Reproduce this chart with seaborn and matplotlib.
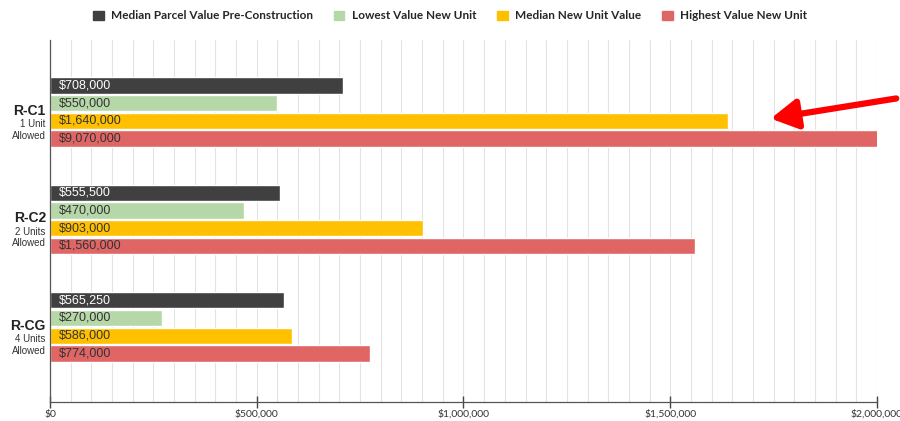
import numpy as np
import pandas as pd
import matplotlib
matplotlib.use("Agg")
import matplotlib.pyplot as plt
import seaborn as sns
from matplotlib.patches import FancyArrowPatch
from matplotlib.ticker import MultipleLocator, FuncFormatter

# ---------------------------------------------------------------
# DATA
# ---------------------------------------------------------------
zones = ["R-C1", "R-C2", "R-CG"]
zone_notes = ["1 Unit\nAllowed", "2 Units\nAllowed", "4 Units\nAllowed"]
series = ["Median Parcel Value Pre-Construction", "Lowest Value New Unit",
          "Median New Unit Value", "Highest Value New Unit"]
median_parcel = [708000, 555500, 565250]
lowest_new = [550000, 470000, 270000]
median_new = [1640000, 903000, 586000]
highest_new = [9070000, 1560000, 774000]
colors = ["#404040", "#b6d7a8", "#ffc000", "#e06666"]
label_colors = ["white", "#333333", "#333333", "#333333"]

all_vals = [median_parcel, lowest_new, median_new, highest_new]
rows = []
for vals, name in zip(all_vals, series):
    for z, v in zip(zones, vals):
        rows.append({"zone": z, "series": name, "value": v})
df = pd.DataFrame(rows)

# ---------------------------------------------------------------
# PLOT
# ---------------------------------------------------------------
sns.set_theme(style="white")
plt.rcParams['font.family'] = ['Lato', 'DejaVu Sans']

fig = plt.figure(figsize=(9, 4.21), dpi=100)
ax = fig.add_axes([50 / 900, 19 / 421, 827 / 900, 362 / 421])

sns.barplot(data=df, y="zone", x="value", hue="series", order=zones,
            hue_order=series, palette=colors, orient="h", width=0.66,
            gap=0.08, ax=ax, legend=False, saturation=1)

ax.set_xlim(0, 2000000)
ax.set_ylim(2.70, -0.67)
ax.set_xlabel("")
ax.set_ylabel("")
ax.set_yticks([])

ax.xaxis.set_major_locator(MultipleLocator(500000))
ax.xaxis.set_minor_locator(MultipleLocator(50000))
ax.xaxis.set_major_formatter(FuncFormatter(lambda v, p: f"${v:,.0f}"))
ax.grid(axis="x", which="both", color="#e3e3e3", linewidth=0.8)
ax.set_axisbelow(True)
ax.tick_params(axis="x", which="major", direction="inout", length=9,
               width=1.0, color="#444444", labelsize=7.5, labelcolor="#333333",
               pad=1, bottom=True)
ax.tick_params(axis="x", which="minor", length=0)

for s in ["top", "right"]:
    ax.spines[s].set_visible(False)
for s in ["left", "bottom"]:
    ax.spines[s].set_color("#555555")
    ax.spines[s].set_linewidth(0.9)

# value labels inside bars, at the left end
for cont, vals, lc in zip(ax.containers, all_vals, label_colors):
    for b, v in zip(cont, vals):
        ax.text(22000, b.get_y() + b.get_height() / 2, f"${v:,.0f}",
                ha="left", va="center", color=lc, fontsize=9,
                family=["Liberation Sans", "DejaVu Sans"])

# category labels on the left
tr = ax.get_yaxis_transform()
for i, (z, note) in enumerate(zip(zones, zone_notes)):
    ax.text(-0.005, i - 0.01, z, transform=tr, ha="right", va="center",
            fontsize=10, fontweight="bold", color="#222222",
            family=["Liberation Sans", "DejaVu Sans"])
    ax.text(-0.005, i + 0.07, note, transform=tr, ha="right", va="top",
            fontsize=7, color="#333333", linespacing=1.15,
            family=["Liberation Sans", "DejaVu Sans"])

# legend
handles = [plt.Rectangle((0, 0), 1, 1, color=c) for c in colors]
fig.legend(handles, series, loc="center", bbox_to_anchor=(0.5, 0.962),
           ncol=4, frameon=False, handlelength=0.9, handleheight=0.9,
           columnspacing=1.8, handletextpad=0.6,
           prop={"weight": "bold", "size": 8.5})

# red pointer arrow
fig.patches.append(FancyArrowPatch(
    (899 / 900, 1 - 98 / 421), (768 / 900, 1 - 119 / 421),
    transform=fig.transFigure, arrowstyle="-|>,head_length=16,head_width=9",
    color="#ff0000", linewidth=4.5, mutation_scale=1))

fig.savefig("out.png", dpi=100)
